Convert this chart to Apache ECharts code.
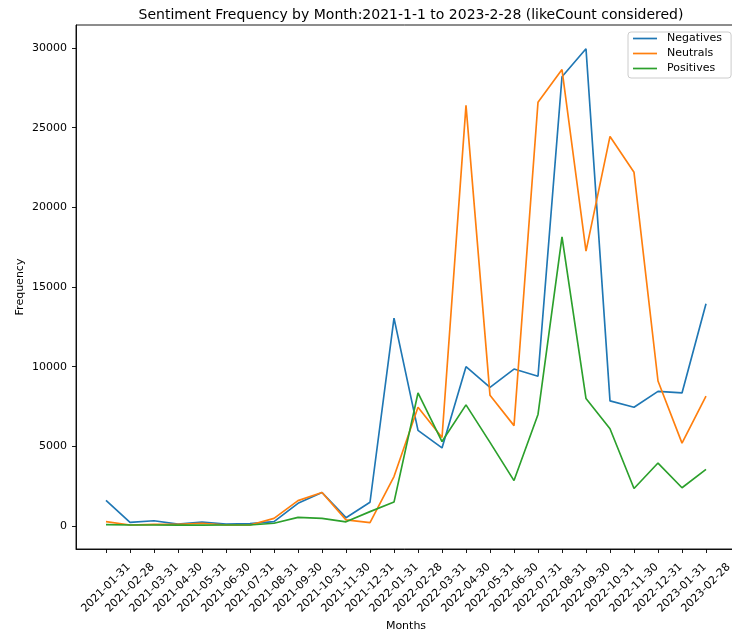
<!DOCTYPE html>
<html>
<head>
<meta charset="utf-8">
<script src="https://cdn.jsdelivr.net/npm/echarts@6/dist/echarts.min.js"></script>
<style>
  html, body { margin: 0; padding: 0; background: #fff; }
  #chart { width: 732px; height: 633px; }
</style>
</head>
<body>
<div id="chart"></div>
<script>
// Month-end dates along the x axis
const months = [
  '2021-01-31','2021-02-28','2021-03-31','2021-04-30','2021-05-31','2021-06-30',
  '2021-07-31','2021-08-31','2021-09-30','2021-10-31','2021-11-30','2021-12-31',
  '2022-01-31','2022-02-28','2022-03-31','2022-04-30','2022-05-31','2022-06-30',
  '2022-07-31','2022-08-31','2022-09-30','2022-10-31','2022-11-30','2022-12-31',
  '2023-01-31','2023-02-28'
];

// Like-weighted sentiment counts per month
const negatives = [1600, 230, 330, 120, 250, 120, 150, 270, 1420, 2100, 520, 1490,
  13050, 6000, 4900, 10000, 8700, 9850, 9400, 28200, 29950, 7850, 7450, 8450, 8350, 13950];
const neutrals = [270, 60, 100, 100, 170, 60, 60, 480, 1590, 2100, 380, 210,
  3100, 7450, 5550, 26400, 8200, 6300, 26600, 28650, 17250, 24450, 22200, 9100, 5200, 8150];
const positives = [80, 60, 60, 50, 50, 60, 60, 170, 540, 480, 260, 900,
  1500, 8350, 5300, 7600, 5250, 2850, 7000, 18150, 8000, 6100, 2350, 3950, 2400, 3550];

// Y tick values
const yTicks = [0, 5000, 10000, 15000, 20000, 25000, 30000];

const FONT = 'DejaVu Sans';
const LINE_ICON = 'path://M0,0 L24,0 L24,1.7 L0,1.7 Z';

// Pad the axes by 5% of the data span on each side
const allVals = negatives.concat(neutrals, positives);
const dMin = Math.min.apply(null, allVals);
const dMax = Math.max.apply(null, allVals);
const yPad = (dMax - dMin) * 0.05;
const xPad = (months.length - 1) * 0.05;

const toPairs = arr => arr.map((v, i) => [i, v]);
const xIdx = months.map((_, i) => i);

function lineSeries(name, data, color) {
  return {
    name: name,
    type: 'line',
    data: toPairs(data),
    symbol: 'none',
    showSymbol: false,
    lineStyle: { color: color, width: 1.67 },
    itemStyle: { color: color },
    emphasis: { disabled: true },
    animation: false
  };
}

const chart = echarts.init(document.getElementById('chart'), null, { renderer: 'canvas' });
chart.setOption({
  backgroundColor: '#ffffff',
  animation: false,
  title: {
    text: 'Sentiment Frequency by Month:2021-1-1 to 2023-2-28 (likeCount considered)',
    left: 406,
    top: 3,
    textAlign: 'center',
    textStyle: { fontFamily: FONT, fontSize: 14, fontWeight: 'normal', color: '#000' }
  },
  grid: {
    left: 76, top: 25, width: 660, height: 524,
    containLabel: false,
    outerBoundsMode: 'none',
    show: true, borderColor: '#000', borderWidth: 0.9, backgroundColor: 'transparent'
  },
  legend: {
    orient: 'vertical',
    left: 628,
    top: 32,
    padding: [1, 9, 4, 5],
    itemWidth: 24,
    itemHeight: 14,
    itemGap: 4,
    symbolKeepAspect: true,
    borderColor: '#cccccc',
    borderWidth: 1,
    borderRadius: 3,
    backgroundColor: 'rgba(255,255,255,0.8)',
    textStyle: { fontFamily: FONT, fontSize: 11, color: '#000', padding: [0, 0, 0, 5] },
    data: [
      { name: 'Negatives', icon: LINE_ICON },
      { name: 'Neutrals', icon: LINE_ICON },
      { name: 'Positives', icon: LINE_ICON }
    ]
  },
  xAxis: {
    type: 'value',
    min: -xPad,
    max: months.length - 1 + xPad,
    name: 'Months',
    nameLocation: 'middle',
    nameGap: 72,
    nameMoveOverlap: false,
    nameTextStyle: { fontFamily: FONT, fontSize: 11, color: '#000' },
    axisLine: { show: true, onZero: false, lineStyle: { color: '#000', width: 0.9 } },
    splitLine: { show: false },
    axisTick: { show: true, length: 4, lineStyle: { color: '#000', width: 0.9 }, customValues: xIdx },
    axisLabel: {
      customValues: xIdx,
      formatter: v => months[Math.round(v)] || '',
      rotate: 45,
      align: 'center',
      verticalAlign: 'middle',
      margin: 39,
      fontFamily: FONT,
      fontSize: 11,
      color: '#000'
    }
  },
  yAxis: {
    type: 'value',
    min: dMin - yPad,
    max: dMax + yPad,
    name: 'Frequency',
    nameLocation: 'middle',
    nameGap: 50,
    nameMoveOverlap: false,
    nameRotate: 90,
    nameTextStyle: { fontFamily: FONT, fontSize: 11, color: '#000' },
    axisLine: { show: true, onZero: false, lineStyle: { color: '#000', width: 0.9 } },
    splitLine: { show: false },
    axisTick: { show: true, length: 4, lineStyle: { color: '#000', width: 0.9 }, customValues: yTicks },
    axisLabel: {
      customValues: yTicks,
      formatter: v => String(Math.round(v)),
      margin: 9,
      fontFamily: FONT,
      fontSize: 11,
      color: '#000'
    }
  },
  series: [
    lineSeries('Negatives', negatives, '#1f77b4'),
    lineSeries('Neutrals', neutrals, '#ff7f0e'),
    lineSeries('Positives', positives, '#2ca02c')
  ]
});
</script>
</body>
</html>
